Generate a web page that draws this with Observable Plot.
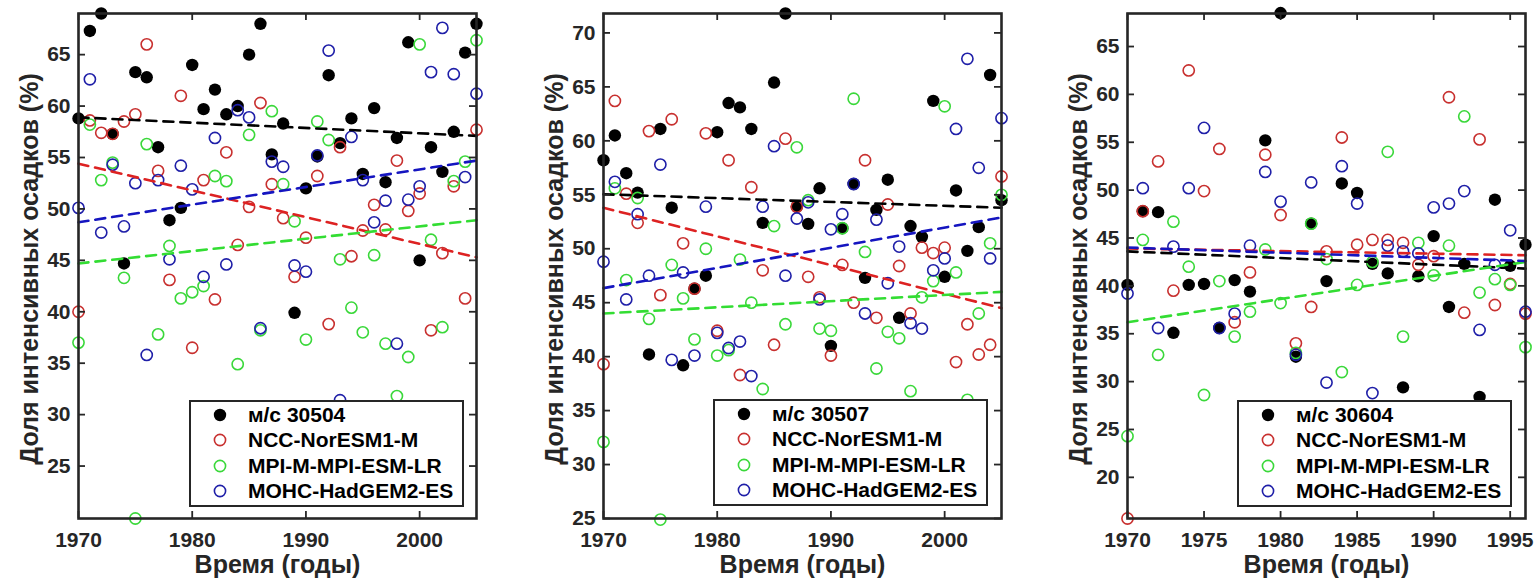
<!DOCTYPE html>
<html>
<head>
<meta charset="utf-8">
<script src="https://cdn.jsdelivr.net/npm/d3@7"></script>
<script src="https://cdn.jsdelivr.net/npm/@observablehq/plot@0.6"></script>
<style>
  body { margin: 0; background: #fff; }
  #wrap { position: relative; width: 1539px; height: 587px; overflow: hidden; }
  .panel { position: absolute; top: 0; }
  .legend {
    position: absolute; background: #fff; box-sizing: border-box;
    border: 2.5px solid #262626;
    font: bold 21px "Liberation Sans", Arial, sans-serif; color: #000;
  }
  .legend .row { position: absolute; left: 0; height: 24px; line-height: 24px; white-space: nowrap; }
  .legend svg { position: absolute; left: 20px; top: 3px; }
  .legend span { position: absolute; left: 57px; top: 0; }
</style>
</head>
<body>
<div id="wrap"></div>
<script>
// Series names shown in the legends
const modelNames = ["NCC-NorESM1-M", "MPI-M-MPI-ESM-LR", "MOHC-HadGEM2-ES"];
const stations = ["м/с 30504", "м/с 30507", "м/с 30604"];

// Years
const years1 = [1970,1971,1972,1973,1974,1975,1976,1977,1978,1979,1980,1981,1982,1983,1984,1985,1986,1987,1988,1989,1990,1991,1992,1993,1994,1995,1996,1997,1998,1999,2000,2001,2002,2003,2004,2005];
const years3 = [1970,1971,1972,1973,1974,1975,1976,1977,1978,1979,1980,1981,1982,1983,1984,1985,1986,1987,1988,1989,1990,1991,1992,1993,1994,1995,1996];

// Station 30504 and the three models (share of heavy precipitation, %)
const obs1 = [58.8,67.3,69.0,57.3,44.7,63.3,62.8,56.0,48.9,50.1,64.0,59.7,61.6,59.2,60.0,65.0,68.0,55.3,58.3,39.9,52.0,55.1,63.0,56.4,58.8,53.4,59.8,52.6,56.9,66.2,45.0,56.0,53.6,57.5,65.2,68.0];
const nor1 = [40.0,58.6,57.4,57.3,58.5,59.2,66.0,53.7,43.1,61.0,36.5,52.8,41.2,55.5,46.5,50.2,60.3,52.4,49.1,43.4,47.2,53.2,38.8,56.0,45.4,47.9,50.4,48.0,54.7,49.8,51.5,38.2,45.7,52.2,41.3,57.7];
const mpi1 = [37.0,58.2,52.8,54.5,43.3,19.9,56.3,37.8,46.4,41.3,41.9,42.5,53.2,52.7,34.9,57.2,38.2,59.5,52.4,48.8,37.3,58.5,56.7,45.1,40.4,38.0,45.5,36.9,31.8,35.6,66.0,47.0,38.5,52.7,54.6,66.4];
const had1 = [50.1,62.6,47.7,54.3,48.3,52.5,35.8,52.8,45.1,54.2,51.9,43.4,56.9,44.6,59.6,58.9,38.4,54.6,54.1,44.5,43.9,55.2,65.4,31.4,57.0,52.8,48.7,50.8,36.9,50.9,52.2,63.3,67.6,63.1,53.1,61.2];

// Station 30507 and the three models
const obs2 = [58.2,60.5,57.0,55.2,40.2,61.1,53.8,39.2,46.3,47.5,60.8,63.5,63.1,61.1,52.4,65.4,71.8,53.9,52.3,55.6,41.0,51.9,56.0,47.3,53.6,56.4,43.6,52.1,51.1,63.7,47.4,55.4,49.8,52.0,66.1,54.5];
const nor2 = [39.3,63.7,55.1,52.4,60.9,45.7,62.0,50.5,46.3,60.7,42.4,58.2,38.3,55.7,48.0,41.1,60.2,53.9,47.4,45.5,40.1,48.5,45.0,58.2,43.6,54.1,48.4,44.0,50.1,49.6,50.1,39.5,43.0,40.2,41.1,56.7];
const mpi2 = [32.1,55.6,47.1,54.7,43.5,24.9,48.5,45.4,41.6,50.0,40.1,40.6,49.0,45.0,37.0,52.1,43.0,59.4,54.5,42.6,42.4,51.9,63.9,49.7,38.9,42.3,41.7,36.8,45.5,47.0,63.2,47.8,36.0,44.0,50.5,55.0];
const had2 = [48.8,56.2,45.3,53.2,47.5,57.8,39.7,47.8,40.1,53.9,42.2,40.8,41.4,38.2,53.9,59.5,47.5,52.8,54.3,45.3,51.8,53.2,56.0,44.0,52.7,46.8,50.2,43.1,42.6,48.0,49.1,61.1,67.6,57.5,49.1,62.1];

// Station 30604 and the three models
const obs3 = [40.1,47.8,47.7,35.1,40.1,40.2,35.6,40.6,39.4,55.2,68.5,32.6,46.5,40.5,50.7,49.7,42.3,41.3,29.4,41.0,45.2,37.8,42.3,28.4,49.0,42.1,44.3];
const nor3 = [15.7,47.8,53.0,39.5,62.5,49.9,54.3,36.2,41.4,53.7,47.4,34.0,37.8,43.6,55.5,44.3,44.8,44.8,44.5,42.2,43.1,59.7,37.2,55.3,38.0,40.2,37.1];
const mpi3 = [24.3,44.8,32.8,46.7,42.0,28.6,40.5,34.7,37.3,43.8,38.2,33.0,46.5,42.8,31.0,40.1,42.5,54.0,34.7,44.5,41.1,44.2,57.7,39.3,40.7,40.1,33.6];
const had3 = [39.2,50.2,35.6,44.1,50.2,56.5,35.6,37.1,44.2,51.9,48.8,32.8,50.8,29.9,52.5,48.6,28.8,44.2,43.6,43.4,48.2,48.6,49.9,35.4,42.2,45.8,37.3];

// Linear trends: values at the first and last year, order obs / NorESM / MPI / HadGEM
const trend1 = [[58.9,57.1],[54.4,45.3],[44.7,48.9],[48.7,54.7]];
const trend2 = [[55.05,53.8],[53.8,44.5],[44.0,46.0],[46.35,52.9]];
const trend3 = [[43.6,41.8],[43.9,43.2],[36.2,42.5],[44.0,42.6]];

// Tick values
const xTicks12 = [1970,1980,1990,2000];
const xTicks3 = [1970,1975,1980,1985,1990,1995];
const yTicks1 = [25,30,35,40,45,50,55,60,65];
const yTicks2 = [25,30,35,40,45,50,55,60,65,70];
const yTicks3 = [20,25,30,35,40,45,50,55,60,65];

const colors = {obs: "#000000", nor: "#c8302f", mpi: "#3ad83a", had: "#1f1fa8"};
const lineColors = {obs: "#000000", nor: "#dd2222", mpi: "#33dd33", had: "#1515c0"};
const keys = ["obs", "nor", "mpi", "had"];

const xLabel = "Время (годы)";
const yLabel = "Доля интенсивных осадков (%)";
const FONT = '"Liberation Sans", Arial, Helvetica, sans-serif';
const AX = "#262626";

function rowsOf(years, values, key) {
  return years.map((yr, i) => ({yr, v: values[i], key}));
}

function panel(cfg) {
  const H = 587, mt = 13, mb = 69, ml = 78, mr = cfg.mr;
  const pw = cfg.width - ml - mr, ph = H - mt - mb;
  const [obs, nor, mpi, had] = cfg.series;
  const y0 = cfg.years[0], y1 = cfg.years[cfg.years.length - 1];
  const trendRows = cfg.trend.flatMap((t, i) => [
    {yr: y0, v: t[0], key: keys[i]}, {yr: y1, v: t[1], key: keys[i]}
  ]);
  const tickStyle = {stroke: AX, strokeWidth: 1.8};
  return Plot.plot({
    width: cfg.width, height: H,
    marginTop: mt, marginBottom: mb, marginLeft: ml, marginRight: mr,
    x: {domain: cfg.xDomain},
    y: {domain: cfg.yDomain},
    style: {fontFamily: FONT, fontWeight: "bold", fontSize: "21px", color: AX, background: "transparent", overflow: "visible"},
    marks: [
      Plot.dot(rowsOf(cfg.years, obs, "obs"), {x: "yr", y: "v", r: 6.2, fill: colors.obs}),
      Plot.dot(rowsOf(cfg.years, nor, "nor"), {x: "yr", y: "v", r: 5.6, stroke: colors.nor, strokeWidth: 1.6}),
      Plot.dot(rowsOf(cfg.years, mpi, "mpi"), {x: "yr", y: "v", r: 5.6, stroke: colors.mpi, strokeWidth: 1.6}),
      Plot.dot(rowsOf(cfg.years, had, "had"), {x: "yr", y: "v", r: 5.6, stroke: colors.had, strokeWidth: 1.6}),
      ...keys.map(k => Plot.line(trendRows.filter(d => d.key === k), {
        x: "yr", y: "v", stroke: lineColors[k], strokeWidth: 2.6, strokeDasharray: "10,7"
      })),
      Plot.frame({stroke: AX, strokeWidth: 2.6}),
      Plot.tickX(cfg.xTicks, {x: d => d, insetTop: ph - 7, ...tickStyle}),
      Plot.tickX(cfg.xTicks, {x: d => d, insetBottom: ph - 7, ...tickStyle}),
      Plot.tickY(cfg.yTicks, {y: d => d, insetRight: pw - 7, ...tickStyle}),
      Plot.tickY(cfg.yTicks, {y: d => d, insetLeft: pw - 7, ...tickStyle}),
      Plot.axisX({ticks: cfg.xTicks, tickSize: 0, tickPadding: 14, tickFormat: d => String(d), label: null, fill: AX}),
      Plot.axisY({ticks: cfg.yTicks, tickSize: 0, tickPadding: 8, tickFormat: d => String(d), label: null, fill: AX}),
      Plot.text([xLabel], {frameAnchor: "bottom", dy: 54, text: d => d, fontSize: 25, fill: AX, textAnchor: "middle"}),
      Plot.text([yLabel], {frameAnchor: "left", dx: -49, dy: 3, rotate: -90, text: d => d, fontSize: 25, fill: AX, textAnchor: "middle"})
    ]
  });
}

function legend(station, left, top) {
  const div = document.createElement("div");
  div.className = "legend";
  Object.assign(div.style, {left: left + "px", top: top + "px", width: "275px", height: "107px"});
  const labels = [station, ...modelNames];
  labels.forEach((lab, i) => {
    const row = document.createElement("div");
    row.className = "row";
    row.style.top = (1 + i * 25.4) + "px";
    const k = keys[i];
    const circ = i === 0
      ? `<circle cx="9" cy="9" r="6.2" fill="${colors.obs}"/>`
      : `<circle cx="9" cy="9" r="5.6" fill="none" stroke="${colors[k]}" stroke-width="1.6"/>`;
    row.innerHTML = `<svg width="18" height="18">${circ}</svg><span>${lab}</span>`;
    div.appendChild(row);
  });
  return div;
}

const wrap = document.getElementById("wrap");
const cfgs = [
  {left: 0, width: 500, mr: 24, years: years1, series: [obs1, nor1, mpi1, had1], trend: trend1,
   xDomain: [1970, 2005], yDomain: [19.9, 69], xTicks: xTicks12, yTicks: yTicks1, legend: [189, 400]},
  {left: 525, width: 500, mr: 24, years: years1, series: [obs2, nor2, mpi2, had2], trend: trend2,
   xDomain: [1970, 2005], yDomain: [25, 71.8], xTicks: xTicks12, yTicks: yTicks2, legend: [713, 399]},
  {left: 1049, width: 490, mr: 14, years: years3, series: [obs3, nor3, mpi3, had3], trend: trend3,
   xDomain: [1970, 1996], yDomain: [15.7, 68.45], xTicks: xTicks3, yTicks: yTicks3, legend: [1237, 400]}
];
cfgs.forEach((c, i) => {
  const svg = panel(c);
  svg.classList.add("panel");
  svg.style.left = c.left + "px";
  wrap.appendChild(svg);
  wrap.appendChild(legend(stations[i], c.legend[0], c.legend[1]));
});
</script>
</body>
</html>
